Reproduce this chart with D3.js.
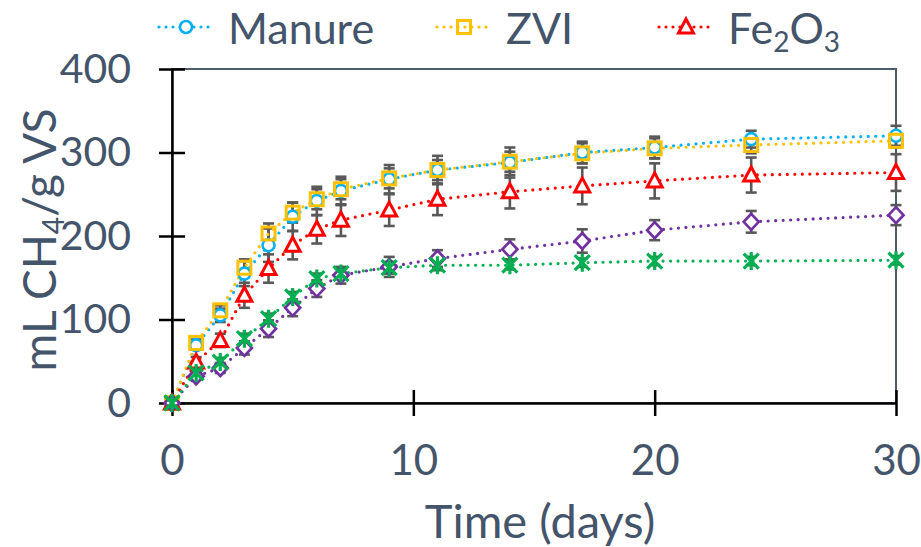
<!DOCTYPE html>
<html><head><meta charset="utf-8">
<script src="https://cdn.jsdelivr.net/npm/d3@7/dist/d3.min.js"></script>
<style>body{margin:0;background:#fff}svg{display:block}</style>
</head><body><svg id="c" width="921" height="547"></svg>
<script>
const time = [0,1,2,3,4,5,6,7,9,11,14,17,20,24,30];
const manure = [0,69,105,155,189,223,242,254,268,279,288,300,306,316,320];
const manureErr = [0,5,8,15,20,17,17,17,17,17,18,13,13,10,12];
const zvi = [0,72,111,162,203,228,244,256,269,279,289,299,305,309,314];
const zviErr = [0,4,6,10,12,12,12,12,12,12,12,12,12,10,8];
const fe2o3 = [0,49,75,129,161,189,208,219,231,244,253,260,266,273,276];
const fe2o3Err = [0,6,8,15,17,17,17,19,19,19,20,22,21,21,22];
const series4 = [0,32,42,66,89,114,137,153,163,173,184,194,207,217,225];
const series4Err = [0,4,6,8,10,10,10,10,12,10,12,14,12,13,12];
const series5 = [0,36,49,77,101,127,149,155,162,165,165,168,170,170,171];
const series5Err = [0,4,5,6,6,6,6,6,7,6,5,5,5,5,5];
const xTicks = [0,10,20,30];
const yTicks = [0,100,200,300,400];

const seriesList = [
  {name:"Manure", values:manure, err:manureErr, color:"#00B0F0", marker:"circle", legend:true},
  {name:"ZVI", values:zvi, err:zviErr, color:"#FFC000", marker:"square", legend:true},
  {name:"Fe2O3", values:fe2o3, err:fe2o3Err, color:"#FF0000", marker:"triangle", legend:true},
  {name:"Series 4", values:series4, err:series4Err, color:"#7030A0", marker:"diamond", legend:false},
  {name:"Series 5", values:series5, err:series5Err, color:"#00B050", marker:"star", legend:false}
];

const FONT = "Lato, 'Open Sans', sans-serif";
const TXT = "#44546A";
const svg = d3.select("#c");
const x = d3.scaleLinear().domain([0,30]).range([172,896]);
const y = d3.scaleLinear().domain([0,400]).range([403,69]);

// plot border
svg.append("rect").attr("x",x(0)).attr("y",y(400)).attr("width",x(30)-x(0)).attr("height",y(0)-y(400))
  .attr("fill","none").attr("stroke","#4E5B6C").attr("stroke-width",2);

function markerPath(type, g, color){
  if(type==="circle"){
    g.append("circle").attr("r",6).attr("fill","#fff").attr("stroke",color).attr("stroke-width",2.6);
  } else if(type==="square"){
    g.append("rect").attr("x",-6.5).attr("y",-6.5).attr("width",13).attr("height",13).attr("fill","none").attr("stroke",color).attr("stroke-width",3);
  } else if(type==="triangle"){
    g.append("path").attr("d","M0,-8 L7.5,6 L-7.5,6 Z").attr("fill","#fff").attr("stroke",color).attr("stroke-width",3);
  } else if(type==="diamond"){
    g.append("path").attr("d","M0,-8 L7.5,0 L0,8 L-7.5,0 Z").attr("fill","#fff").attr("stroke",color).attr("stroke-width",2.7);
  } else if(type==="star"){
    g.append("path").attr("d","M-7.5,-7.5 L7.5,7.5 M-7.5,7.5 L7.5,-7.5 M0,-9 L0,9").attr("fill","none").attr("stroke",color).attr("stroke-width",3.2);
  }
}

// error bars
const eb = svg.append("g").attr("stroke","#595959").attr("stroke-width",2.6);
seriesList.forEach(s=>{
  time.forEach((t,i)=>{
    const e = s.err[i]; if(!e) return;
    const cx = x(t), y1 = y(s.values[i]+e), y2 = y(s.values[i]-e);
    eb.append("line").attr("x1",cx).attr("x2",cx).attr("y1",y1).attr("y2",y2);
    eb.append("line").attr("x1",cx-5.5).attr("x2",cx+5.5).attr("y1",y1).attr("y2",y1);
    eb.append("line").attr("x1",cx-5.5).attr("x2",cx+5.5).attr("y1",y2).attr("y2",y2);
  });
});

// axes
const xAxis = svg.append("g").attr("transform",`translate(0,${y(0)})`)
  .call(d3.axisBottom(x).tickValues(xTicks).tickSizeInner(13).tickSizeOuter(0).tickPadding(29));
xAxis.select(".domain").attr("stroke","#000").attr("stroke-width",2.5);
xAxis.selectAll(".tick line").attr("y1",-13).attr("stroke","#000").attr("stroke-width",2.5);
xAxis.selectAll(".tick text").attr("fill",TXT).style("font-family",FONT).style("font-size","42px");

const yAxis = svg.append("g").attr("transform",`translate(${x(0)},0)`)
  .call(d3.axisLeft(y).tickValues(yTicks).tickSizeInner(13).tickSizeOuter(0).tickPadding(28));
yAxis.select(".domain").attr("stroke","#000").attr("stroke-width",2.5);
yAxis.selectAll(".tick line").attr("x1",13).attr("stroke","#000").attr("stroke-width",2.5);
yAxis.selectAll(".tick text").attr("fill",TXT).style("font-family",FONT).style("font-size","41px");

// lines + markers
const line = d3.line().x((d,i)=>x(time[i])).y(d=>y(d));
seriesList.forEach(s=>{
  svg.append("path").attr("d",line(s.values)).attr("fill","none").attr("stroke",s.color)
    .attr("stroke-width",3.2).attr("stroke-linecap","round").attr("stroke-dasharray","0 7.5");
});
seriesList.forEach(s=>{
  time.forEach((t,i)=>{
    const g = svg.append("g").attr("transform",`translate(${x(t)},${y(s.values[i])})`);
    markerPath(s.marker,g,s.color);
  });
});

// axis titles
svg.append("text").attr("x",540).attr("y",538).attr("text-anchor","middle").attr("fill",TXT)
  .style("font-family",FONT).style("font-size","47px").text("Time (days)");
const yt = svg.append("text").attr("transform","translate(56,240) rotate(-90)").attr("text-anchor","middle")
  .attr("fill",TXT).style("font-family",FONT).style("font-size","46px");
yt.append("tspan").text("mL CH");
yt.append("tspan").attr("dy",8).style("font-size","30px").text("4");
yt.append("tspan").attr("dy",-8).text("/g VS");

// legend
const legendItems = [
  {s:seriesList[0], cx:186, label:[["Manure",false]]},
  {s:seriesList[1], cx:464, label:[["ZVI",false]]},
  {s:seriesList[2], cx:686, label:[["Fe",false],["2",true],["O",false],["3",true]]}
];
legendItems.forEach(it=>{
  const ly = 27;
  svg.append("line").attr("x1",it.cx-27).attr("x2",it.cx+27).attr("y1",ly).attr("y2",ly)
    .attr("stroke",it.s.color).attr("stroke-width",3.2).attr("stroke-linecap","round").attr("stroke-dasharray","0 7");
  const g = svg.append("g").attr("transform",`translate(${it.cx},${ly})`);
  markerPath(it.s.marker,g,it.s.color);
  const t = svg.append("text").attr("x",it.cx+42).attr("y",ly+17).attr("fill",TXT)
    .style("font-family",FONT).style("font-size","43px");
  let sub=false;
  it.label.forEach(([txt,isSub])=>{
    const ts = t.append("tspan").text(txt);
    if(isSub && !sub){ts.attr("dy",8).style("font-size","28px"); sub=true;}
    else if(!isSub && sub){ts.attr("dy",-8); sub=false;}
    else if(isSub){ts.style("font-size","28px");}
  });
});
</script></body></html>
